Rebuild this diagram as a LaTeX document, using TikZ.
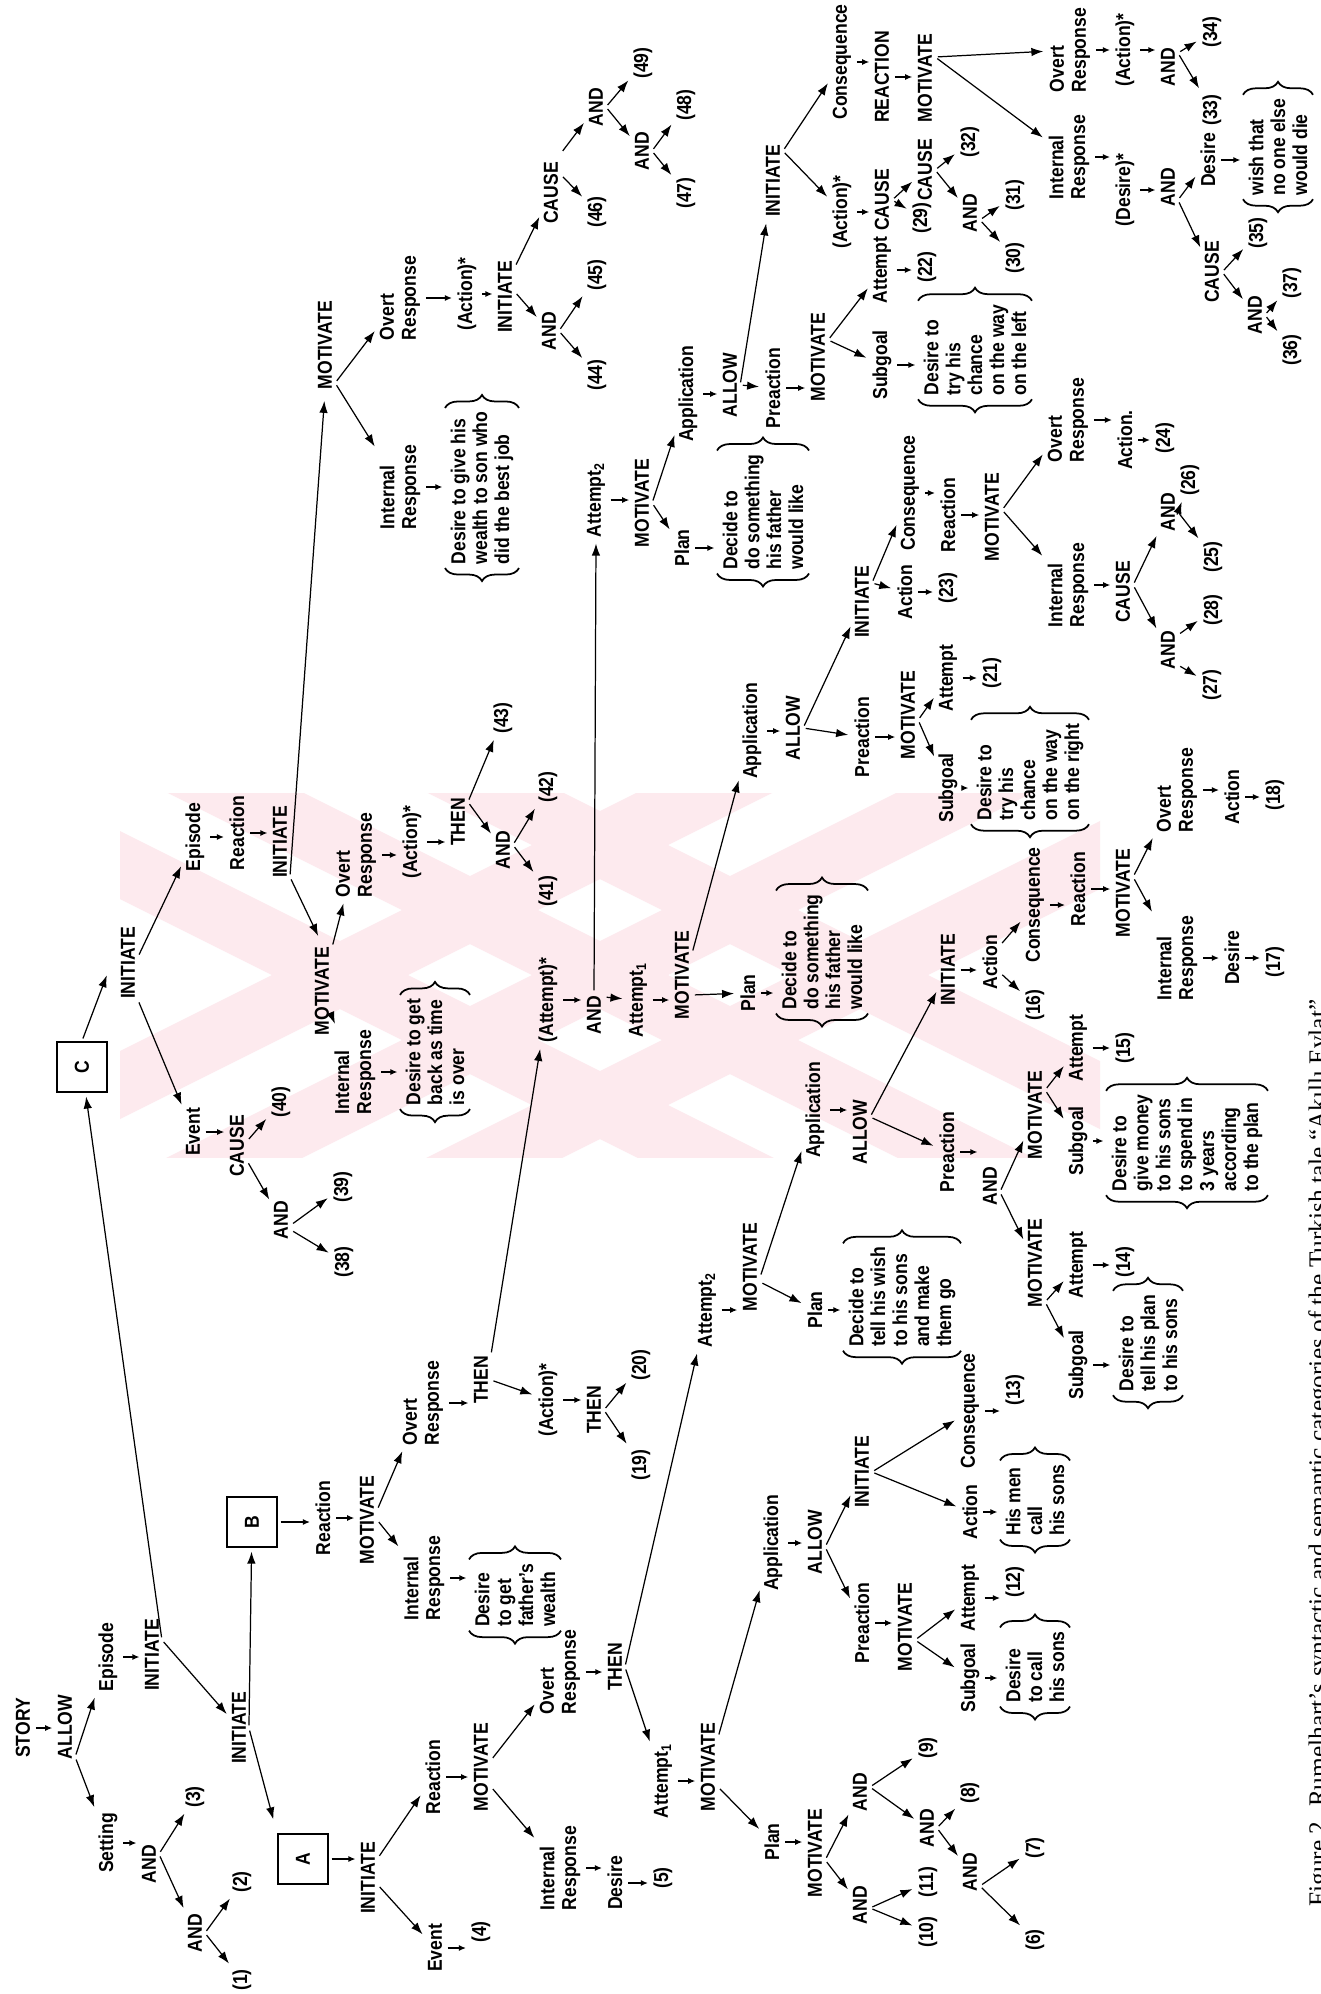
\documentclass[tikz,border=0pt]{standalone}
\usepackage{fontspec}
\usepackage{graphicx}
\newfontfamily\lf{Liberation Sans}[FakeStretch=0.87]
\newfontfamily\cf{Liberation Serif}
\usetikzlibrary{arrows.meta,decorations.pathreplacing}
\definecolor{wm}{RGB}{253,234,238}
\tikzset{
 lb/.style={rotate=90, font={\lf\bfseries\fontsize{11.5pt}{12.5pt}\selectfont}, inner sep=1.5pt, align=left},
 bx/.style={lb, inner xsep=2pt, inner ysep=3pt},
 sq/.style={draw, line width=1.2pt, minimum size=1cm, inner sep=0pt, font={\lf\bfseries\fontsize{11.5pt}{12.5pt}\selectfont}},
 ar/.style={-{Latex[length=0.24cm,width=0.17cm]}, line width=0.7pt, shorten <=1.5pt, shorten >=2pt},
 sm/.style={-{Latex[length=0.14cm,width=0.12cm]}, line width=0.7pt, shorten <=1.5pt, shorten >=1.5pt},
 brc/.style={decorate, decoration={brace, amplitude=0.26cm}, line width=1pt},
}
\newcommand\sa[2]{\draw[sm] (#1.south) -- (#1.south -| #2.north);}
\newcommand\bracebox[1]{\draw[brc] (#1.south west) -- (#1.north west); \draw[brc] (#1.north east) -- (#1.south east);}
\begin{document}
\begin{tikzpicture}[x=0.02cm, y=-0.02cm]
\fill[white] (0,0) rectangle (1321,1994);
\useasboundingbox (0,0) rectangle (1321,1994);
% ---------- watermark
\begin{scope}
\clip (120,793) rectangle (1100,1157);
\foreach \o in {-130,0,130} {
  \fill[wm] (0,{675+\o-34}) -- (1321,{1335.5+\o-34}) -- (1321,{1335.5+\o+34}) -- (0,{675+\o+34}) -- cycle;
  \fill[wm] (0,{1275+\o-34}) -- (1321,{614.5+\o-34}) -- (1321,{614.5+\o+34}) -- (0,{1275+\o+34}) -- cycle;
}
\end{scope}
% ---------- top level
\node[lb] (story) at (23,1728) {STORY};
\node[lb] (allow) at (65,1727) {ALLOW};
\node[lb] (ep1) at (108,1657) {Episode};
\node[lb] (set) at (108,1843) {Setting};
\node[lb] (ini1) at (152,1655) {INITIATE};
\node[lb] (and1) at (149,1864) {AND};
\node[lb] (p3) at (195,1797) {(3)};
\node[lb] (and2) at (195,1933) {AND};
\node[lb] (p2) at (242,1882) {(2)};
\node[lb] (p1) at (242,1980) {(1)};
\node[lb] (ini2) at (239,1728) {INITIATE};
\node[sq] (boxA) at (303,1859) {\rotatebox{90}{A}};
\node[sq] (boxB) at (252,1522) {\rotatebox{90}{B}};
\node[sq] (boxC) at (82,1067) {\rotatebox{90}{C}};
% ---------- episode A
\node[lb] (iniA) at (368,1878) {INITIATE};
\node[lb] (evA) at (435,1948) {Event};
\node[lb] (p4) at (481,1932) {(4)};
\node[lb] (reA) at (433,1777) {Reaction};
\node[lb] (motA) at (481,1767) {MOTIVATE};
\node[lb] (irA) at (560,1868) {Internal\\Response};
\node[lb] (desA) at (615,1883) {Desire};
\node[lb] (p5) at (663,1878) {(5)};
\node[lb] (orA) at (560,1672) {Overt\\Response};
\node[lb] (thenA) at (615,1667) {THEN};
\node[lb] (at1A) at (663,1781) {Attempt\textsubscript{1}};
\node[lb] (motA1) at (708,1767) {MOTIVATE};
\node[lb] (planA) at (772,1842) {Plan};
\node[lb] (motPA) at (815,1853) {MOTIVATE};
\node[lb] (and9) at (860,1792) {AND};
\node[lb] (and10) at (860,1905) {AND};
\node[lb] (p9) at (928,1748) {(9)};
\node[lb] (and8) at (927,1828) {AND};
\node[lb] (p8) at (970,1793) {(8)};
\node[lb] (and6) at (970,1872) {AND};
\node[lb] (p7) at (1035,1848) {(7)};
\node[lb] (p6) at (1035,1940) {(6)};
\node[lb] (p10) at (928,1932) {(10)};
\node[lb] (p11) at (928,1882) {(11)};
\node[lb] (appA) at (773,1543) {Application};
\node[lb] (alA) at (815,1542) {ALLOW};
\node[lb] (ini12) at (862,1472) {INITIATE};
\node[lb] (cons13) at (970,1411) {Consequence};
\node[lb] (p13) at (1015,1390) {(13)};
\node[lb] (act13) at (970,1512) {Action};
\node[bx] (box13) at (1035,1500) {His men\\call\\his sons};
\node[lb] (pre12) at (862,1623) {Preaction};
\node[lb] (mot12) at (905,1627) {MOTIVATE};
\node[lb] (att12) at (970,1598) {Attempt};
\node[lb] (p12) at (1015,1582) {(12)};
\node[lb] (sg12) at (970,1678) {Subgoal};
\node[bx] (box12) at (1035,1667) {Desire\\to call\\his sons};
\node[lb] (at2A) at (707,1310) {Attempt\textsubscript{2}};
\node[lb] (mot2A) at (750,1267) {MOTIVATE};
\node[lb] (plan2A) at (815,1310) {Plan};
\node[bx] (boxTell) at (902,1297) {Decide to\\tell his wish\\to his sons\\and make\\them go};
\node[lb] (app2A) at (815,1110) {Application};
\node[lb] (al2A) at (860,1132) {ALLOW};
\node[lb] (ini16) at (948,970) {INITIATE};
\node[lb] (act16) at (990,962) {Action};
\node[lb] (p16) at (1035,1005) {(16)};
\node[lb] (cons17) at (1035,905) {Consequence};
\node[lb] (re17) at (1078,889) {Reaction};
\node[lb] (mot17) at (1123,893) {MOTIVATE};
\node[lb] (or18) at (1177,790) {Overt\\Response};
\node[lb] (act18) at (1232,797) {Action};
\node[lb] (p18) at (1275,795) {(18)};
\node[lb] (ir17) at (1177,958) {Internal\\Response};
\node[lb] (des17) at (1232,958) {Desire};
\node[lb] (p17) at (1275,962) {(17)};
\node[lb] (pre15) at (947,1152) {Preaction};
\node[lb] (and15) at (990,1186) {AND};
\node[lb] (mot15) at (1035,1115) {MOTIVATE};
\node[lb] (att15) at (1078,1048) {Attempt};
\node[lb] (p15) at (1125,1048) {(15)};
\node[lb] (sg15) at (1078,1141) {Subgoal};
\node[bx] (box15) at (1187,1143) {Desire to\\give money\\to his sons\\to spend in\\3 years\\according\\to the plan};
\node[lb] (mot14) at (1035,1263) {MOTIVATE};
\node[lb] (att14) at (1078,1265) {Attempt};
\node[lb] (p14) at (1125,1262) {(14)};
\node[lb] (sg14) at (1078,1365) {Subgoal};
\node[bx] (box14) at (1148,1343) {Desire to\\tell his plan\\to his sons};
% ---------- episode B
\node[lb] (reB) at (323,1518) {Reaction};
\node[lb] (motB) at (367,1520) {MOTIVATE};
\node[lb] (irB) at (424,1578) {Internal\\Response};
\node[bx] (dB) at (515,1595) {Desire\\to get\\father’s\\wealth};
\node[lb] (orB) at (423,1403) {Overt\\Response};
\node[lb] (thenB) at (481,1380) {THEN};
\node[lb] (act19) at (548,1400) {(Action)*};
\node[lb] (then19) at (594,1410) {THEN};
\node[lb] (p20) at (641,1365) {(20)};
\node[lb] (p19) at (641,1465) {(19)};
\node[lb] (attS) at (548,1000) {(Attempt)*};
\node[lb] (andS) at (594,1015) {AND};
\node[lb] (at1B) at (638,1000) {Attempt\textsubscript{1}};
\node[lb] (mot1B) at (682,975) {MOTIVATE};
\node[lb] (plan1B) at (748,993) {Plan};
\node[bx] (boxP1) at (822,952) {Decide to\\do something\\his father\\would like};
\node[lb] (app1B) at (752,731) {Application};
\node[lb] (al1B) at (793,728) {ALLOW};
\node[lb] (ini23) at (862,602) {INITIATE};
\node[lb] (act23) at (905,592) {Action};
\node[lb] (p23) at (948,588) {(23)};
\node[lb] (cons23) at (910,493) {Consequence};
\node[lb] (re23) at (948,515) {Reaction};
\node[lb] (mot23) at (992,517) {MOTIVATE};
\node[lb] (or24) at (1068,420) {Overt\\Response};
\node[lb] (act24) at (1125,440) {Action.};
\node[lb] (p24) at (1165,438) {(24)};
\node[lb] (ir25) at (1068,585) {Internal\\Response};
\node[lb] (cau25) at (1123,592) {CAUSE};
\node[lb] (and25) at (1168,512) {AND};
\node[lb] (p25) at (1213,557) {(25)};
\node[lb] (p26) at (1190,480) {(26)};
\node[lb] (and27) at (1168,650) {AND};
\node[lb] (p27) at (1212,685) {(27)};
\node[lb] (p28) at (1213,610) {(28)};
\node[lb] (pre21) at (862,737) {Preaction};
\node[lb] (mot21) at (908,715) {MOTIVATE};
\node[lb] (att21) at (948,678) {Attempt};
\node[lb] (p21) at (992,673) {(21)};
\node[lb] (sg21) at (948,788) {Subgoal};
\node[bx] (box21) at (1030,772) {Desire to\\try his\\chance\\on the way\\on the right};
\node[lb] (at2B) at (596,500) {Attempt\textsubscript{2}};
\node[lb] (mot2B) at (642,503) {MOTIVATE};
\node[lb] (plan2B) at (682,548) {Plan};
\node[bx] (boxP2) at (763,512) {Decide to\\do something\\his father\\would like};
\node[lb] (app2B) at (688,394) {Application};
\node[lb] (al2B) at (730,385) {ALLOW};
\node[lb] (ini29) at (773,181) {INITIATE};
\node[lb] (pre22) at (773,388) {Preaction};
\node[lb] (mot22) at (818,357) {MOTIVATE};
\node[lb] (sg22) at (882,365) {Subgoal};
\node[bx] (box22) at (975,350) {Desire to\\try his\\chance\\on the way\\on the left};
\node[lb] (att22) at (882,270) {Attempt};
\node[lb] (p22) at (927,267) {(22)};
\node[lb] (act29) at (842,212) {(Action)*};
\node[lb] (cau29) at (882,200) {CAUSE};
\node[lb] (p29) at (922,218) {(29)};
\node[lb] (cau32) at (925,170) {CAUSE};
\node[lb] (and30) at (970,213) {AND};
\node[lb] (p30) at (1015,258) {(30)};
\node[lb] (p31) at (1015,195) {(31)};
\node[lb] (p32) at (970,142) {(32)};
\node[lb] (cons33) at (842,62) {Consequence};
\node[lb] (REACT) at (882,77) {REACTION};
\node[lb] (motR) at (925,78) {MOTIVATE};
\node[lb] (or34) at (1070,50) {Overt\\Response};
\node[lb] (act34) at (1125,50) {(Action)*};
\node[lb] (and33) at (1168,67) {AND};
\node[lb] (p34) at (1212,32) {(34)};
\node[lb] (p33) at (1212,110) {(33)};
\node[lb] (ir33) at (1069,157) {Internal\\Response};
\node[lb] (desS) at (1125,190) {(Desire)*};
\node[lb] (andD) at (1168,187) {AND};
\node[lb] (des33) at (1208,160) {Desire};
\node[bx] (boxWish) at (1278,147) {wish that\\no one else\\would die};
\node[lb] (cau35) at (1212,272) {CAUSE};
\node[lb] (p35) at (1258,233) {(35)};
\node[lb] (and36) at (1255,315) {AND};
\node[lb] (p37) at (1292,283) {(37)};
\node[lb] (p36) at (1292,350) {(36)};
% ---------- episode C
\node[lb] (iniC) at (128,963) {INITIATE};
\node[lb] (evC) at (193,1132) {Event};
\node[lb] (cau40) at (237,1146) {CAUSE};
\node[lb] (p40) at (281,1102) {(40)};
\node[lb] (and38) at (281,1220) {AND};
\node[lb] (p39) at (343,1187) {(39)};
\node[lb] (p38) at (344,1262) {(38)};
\node[lb] (epC) at (195,837) {Episode};
\node[lb] (reC) at (237,833) {Reaction};
\node[lb] (iniCr) at (280,842) {INITIATE};
\node[lb] (mot41) at (322,991) {MOTIVATE};
\node[lb] (ir41) at (355,1072) {Internal\\Response};
\node[bx] (box41) at (435,1052) {Desire to get\\back as time\\is over};
\node[lb] (or41) at (356,855) {Overt\\Response};
\node[lb] (act41) at (412,842) {(Action)*};
\node[lb] (then43) at (458,822) {THEN};
\node[lb] (and41) at (503,850) {AND};
\node[lb] (p41) at (548,891) {(41)};
\node[lb] (p42) at (548,787) {(42)};
\node[lb] (p43) at (503,718) {(43)};
\node[lb] (mot44) at (325,345) {MOTIVATE};
\node[lb] (ir44) at (400,487) {Internal\\Response};
\node[bx] (box44) at (482,488) {Desire to give his\\wealth to son who\\did the best job};
\node[lb] (or44) at (400,298) {Overt\\Response};
\node[lb] (act44) at (467,294) {(Action)*};
\node[lb] (ini44) at (505,297) {INITIATE};
\node[lb] (and44) at (549,331) {AND};
\node[lb] (p44) at (597,375) {(44)};
\node[lb] (p45) at (597,275) {(45)};
\node[lb] (cau46) at (551,193) {CAUSE};
\node[lb] (p46) at (597,212) {(46)};
\node[lb] (and47) at (596,107) {AND};
\node[lb] (p49) at (643,63) {(49)};
\node[lb] (and48) at (642,151) {AND};
\node[lb] (p47) at (686,193) {(47)};
\node[lb] (p48) at (686,105) {(48)};
% caption
\node[rotate=90, anchor=base west, inner sep=0pt, font={\cf\fontsize{14.4pt}{16pt}\selectfont}] (cap) at (1326,1907) {Figure 2. Rumelhart’s syntactic and semantic categories of the Turkish tale “Akıllı Evlat”};
% ---------- braces
\bracebox{box13} \bracebox{box12} \bracebox{boxTell} \bracebox{box15} \bracebox{box14}
\bracebox{dB} \bracebox{boxP1} \bracebox{box21} \bracebox{boxP2} \bracebox{box22}
\bracebox{boxWish} \bracebox{box41} \bracebox{box44}
% ---------- connectors: top level
\sa{story}{allow}
\draw[ar] ([yshift=-0.6cm]allow.south) -- (ep1);
\draw[ar] ([yshift=-0.6cm]allow.south) -- (set);
\sa{ep1}{ini1}
\sa{set}{and1}
\draw[ar] ([yshift=0.3cm]ini1.south) -- (ini2);
\draw[ar] ([yshift=0.3cm]ini1.south) -- (boxC);
\draw[ar] ([yshift=0.2cm]and1.south) -- (p3);
\draw[ar] ([yshift=0.2cm]and1.south) -- (and2);
\draw[ar] (and2.south) -- (p2);
\draw[ar] (and2.south) -- (p1);
\draw[ar] (ini2.south) -- (boxB);
\draw[ar, shorten >=8pt] (ini2.south) -- (boxA.north west);
% episode A
\draw[sm] (boxA.east) -- (boxA.east -| iniA.north);
\draw[ar] ([yshift=0.4cm]iniA.south) -- (reA);
\draw[ar] ([yshift=-0.14cm]iniA.south) -- (evA);
\sa{evA}{p4}
\sa{reA}{motA}
\draw[ar] ([yshift=0.14cm]motA.south) -- (orA);
\draw[ar] ([yshift=-0.4cm]motA.south) -- (irA);
\sa{irA}{desA} \sa{desA}{p5}
\sa{orA}{thenA}
\draw[ar] (thenA.south) -- (at2A);
\draw[ar] (thenA.south) -- (at1A);
\sa{at1A}{motA1}
\draw[ar] ([yshift=0.6cm]motA1.south) -- (appA);
\draw[ar] ([yshift=-0.4cm]motA1.south) -- (planA);
\sa{planA}{motPA}
\draw[ar] ([yshift=-0.14cm]motPA.south) -- (and9);
\draw[ar] ([yshift=-0.14cm]motPA.south) -- (and10);
\draw[ar] ([yshift=0.1cm]and9.south) -- (p9);
\draw[ar] ([yshift=0.1cm]and9.south) -- (and8);
\draw[ar] ([yshift=-0.06cm]and10.south) -- (p10);
\draw[ar] ([yshift=-0.06cm]and10.south) -- (p11);
\draw[ar] (and8.south) -- (p8);
\draw[ar] (and8.south) -- (and6);
\draw[ar] ([yshift=-0.28cm]and6.south) -- (p7);
\draw[ar] ([yshift=-0.28cm]and6.south) -- (p6);
\sa{appA}{alA}
\draw[ar] ([yshift=-0.1cm]alA.south) -- (ini12);
\draw[ar] ([yshift=-0.1cm]alA.south) -- (pre12);
\draw[ar] (ini12.south) -- (cons13);
\draw[ar] (ini12.south) -- (act13);
\sa{cons13}{p13}
\sa{act13}{box13}
\sa{pre12}{mot12}
\draw[ar] ([yshift=-0.26cm]mot12.south) -- (att12);
\draw[ar] ([yshift=-0.26cm]mot12.south) -- (sg12);
\sa{att12}{p12} \sa{sg12}{box12}
\sa{at2A}{mot2A}
\draw[ar] ([yshift=-0.3cm]mot2A.south) -- (plan2A);
\draw[ar] ([yshift=-0.2cm]mot2A.south) -- (app2A);
\sa{plan2A}{boxTell}
\sa{app2A}{al2A}
\draw[ar] ([yshift=0.3cm]al2A.south) -- (ini16);
\draw[ar] ([yshift=0.3cm]al2A.south) -- (pre15);
\sa{ini16}{act16}
\draw[ar] ([yshift=0.34cm]act16.south) -- (cons17);
\draw[ar] ([yshift=-0.22cm]act16.south) -- (p16);
\sa{cons17}{re17} \sa{re17}{mot17}
\draw[ar] ([yshift=0.32cm]mot17.south) -- (or18);
\draw[ar] ([yshift=0.32cm]mot17.south) -- (ir17);
\sa{or18}{act18} \sa{act18}{p18} \sa{ir17}{des17} \sa{des17}{p17}
\sa{pre15}{and15}
\draw[ar] ([yshift=-0.12cm]and15.south) -- (mot15);
\draw[ar] ([yshift=-0.12cm]and15.south) -- (mot14);
\draw[ar] ([yshift=0.5cm]mot15.south) -- (att15);
\draw[ar] ([yshift=0.5cm]mot15.south) -- (sg15);
\draw[ar] ([yshift=-0.78cm]mot14.south) -- (att14);
\draw[ar] ([yshift=-0.78cm]mot14.south) -- (sg14);
\sa{att15}{p15} \sa{sg15}{box15} \sa{att14}{p14} \sa{sg14}{box14}
% episode B
\draw[sm] (boxB.east) -- (boxB.east -| reB.north);
\sa{reB}{motB}
\draw[ar] (motB.south) -- (irB);
\draw[ar] ([yshift=0.2cm]motB.south) -- (orB);
\sa{irB}{dB}
\sa{orB}{thenB}
\draw[ar] ([yshift=0.5cm]thenB.south) -- (attS);
\draw[ar] (thenB.south) -- (act19);
\sa{act19}{then19}
\draw[ar] (then19.south) -- (p20);
\draw[ar] (then19.south) -- (p19);
\sa{attS}{andS}
\draw[ar] (andS.east) -- (at2B.west);
\draw[ar] ([yshift=0.36cm]andS.south) -- (at1B);
\sa{at1B}{mot1B}
\draw[ar] ([yshift=-0.4cm]mot1B.south) -- (plan1B);
\draw[ar] ([yshift=0.44cm]mot1B.south) -- (app1B);
\sa{plan1B}{boxP1}
\sa{app1B}{al1B}
\draw[ar] (al1B.south) -- (ini23);
\draw[ar] (al1B.south) -- (pre21);
\draw[ar] ([yshift=0.38cm]ini23.south) -- (cons23);
\draw[ar] ([yshift=0.38cm]ini23.south) -- (act23);
\sa{act23}{p23}
\sa{cons23}{re23} \sa{re23}{mot23}
\draw[ar] ([yshift=0.14cm]mot23.south) -- (or24);
\draw[ar] ([yshift=0.14cm]mot23.south) -- (ir25);
\sa{or24}{act24} \sa{act24}{p24}
\sa{ir25}{cau25}
\draw[ar] ([yshift=0.14cm]cau25.south) -- (and25);
\draw[ar] ([yshift=0.14cm]cau25.south) -- (and27);
\draw[ar] (and25.south) -- (p26);
\draw[ar] (and25.south) -- (p25);
\draw[ar] ([yshift=0.3cm]and27.south) -- (p28);
\draw[ar] ([yshift=-0.3cm]and27.south) -- (p27);
\sa{pre21}{mot21}
\draw[ar] ([yshift=-0.1cm]mot21.south) -- (att21);
\draw[ar] ([yshift=-0.1cm]mot21.south) -- (sg21);
\sa{att21}{p21} \sa{sg21}{box21}
\sa{at2B}{mot2B}
\draw[ar] (mot2B.south) -- (app2B);
\draw[ar] (mot2B.south) -- (plan2B);
\sa{plan2B}{boxP2}
\sa{app2B}{al2B}
\draw[ar] (al2B.south) -- (ini29);
\draw[ar] (al2B.south) -- (pre22);
\sa{pre22}{mot22}
\draw[ar] ([yshift=0.34cm]mot22.south) -- (sg22);
\draw[ar] ([yshift=0.34cm]mot22.south) -- (att22);
\sa{att22}{p22} \sa{sg22}{box22}
\draw[ar] ([yshift=0.6cm]ini29.south) -- (act29);
\draw[ar] ([yshift=0.6cm]ini29.south) -- (cons33);
\sa{act29}{cau29}
\draw[ar] (cau29.south) -- (p29);
\draw[ar] (cau29.south) -- (cau32);
\draw[ar] (cau32.south) -- (and30);
\draw[ar] (cau32.south) -- (p32);
\draw[ar] ([yshift=-0.14cm]and30.south) -- (p30);
\draw[ar] ([yshift=-0.14cm]and30.south) -- (p31);
\sa{cons33}{REACT} \sa{REACT}{motR}
\draw[ar] ([yshift=0.42cm]motR.south) -- (or34);
\draw[ar] ([yshift=0.42cm]motR.south) -- (ir33);
\sa{or34}{act34} \sa{act34}{and33}
\draw[ar] ([yshift=0.28cm]and33.south) -- (p34);
\draw[ar] ([yshift=0.28cm]and33.south) -- (p33);
\sa{ir33}{desS} \sa{desS}{andD}
\draw[ar] ([yshift=-0.26cm]andD.south) -- (des33);
\draw[ar] ([yshift=-0.26cm]andD.south) -- (cau35);
\sa{des33}{boxWish}
\draw[ar] (cau35.south) -- (p35);
\draw[ar] (cau35.south) -- (and36);
\draw[ar] (and36.south) -- (p37);
\draw[ar] (and36.south) -- (p36);
% episode C
\draw[ar] (boxC.north) -- ([xshift=-0.2cm,yshift=0.6cm]iniC.north west);
\draw[ar] ([yshift=0.12cm]iniC.south) -- (epC);
\draw[ar] ([yshift=-0.74cm]iniC.south) -- (evC);
\sa{epC}{reC} \sa{reC}{iniCr}
\draw[ar, shorten >=5pt] ([yshift=-0.7cm]iniCr.south) -- (mot41.east);
\draw[ar, shorten >=5pt] ([yshift=-0.7cm]iniCr.south) -- (mot44.west);
\draw[ar] ([yshift=0.88cm]mot41.south) -- (or41);
\draw[ar] ([yshift=-0.52cm]mot41.south) -- (ir41);
\sa{or41}{act41} \sa{act41}{then43}
\sa{ir41}{box41}
\draw[ar] ([yshift=0.4cm]then43.south) -- (p43);
\draw[ar] ([yshift=0.4cm]then43.south) -- (and41);
\draw[ar] ([yshift=0.1cm]and41.south) -- (p42);
\draw[ar] ([yshift=0.1cm]and41.south) -- (p41);
\sa{evC}{cau40}
\draw[ar] ([yshift=0.1cm]cau40.south) -- (p40);
\draw[ar] ([yshift=-0.3cm]cau40.south) -- (and38);
\draw[ar] ([yshift=-0.1cm]and38.south) -- (p39);
\draw[ar] ([yshift=-0.2cm]and38.south) -- (p38);
\draw[ar] ([yshift=-0.76cm]mot44.south) -- (or44);
\draw[ar] ([yshift=-0.76cm]mot44.south) -- (ir44);
\sa{or44}{act44} \sa{act44}{ini44}
\sa{ir44}{box44}
\draw[ar] ([yshift=0.1cm]ini44.south) -- (and44);
\draw[ar] ([yshift=0.6cm]ini44.south) -- (cau46);
\draw[ar] (and44.south) -- (p44);
\draw[ar] (and44.south) -- (p45);
\draw[ar] ([yshift=0.36cm]cau46.south) -- (p46);
\draw[ar] ([yshift=0.8cm]cau46.south) -- (and47);
\draw[ar] (and47.south) -- (and48);
\draw[ar] (and47.south) -- (p49);
\draw[ar] (and48.south) -- (p47);
\draw[ar] (and48.south) -- (p48);
\end{tikzpicture}
\end{document}
